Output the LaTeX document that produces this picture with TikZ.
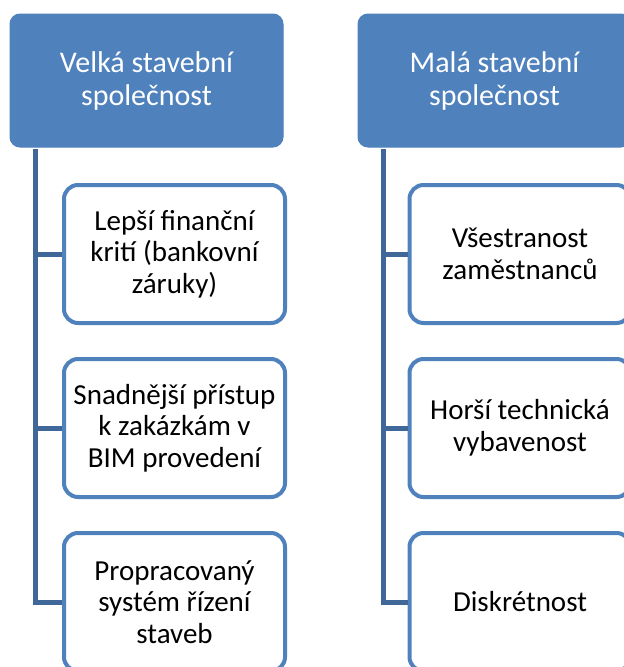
\documentclass[tikz,border=0pt]{standalone}
\usepackage{fontspec}
\setmainfont{Carlito}
\begin{document}
\begin{tikzpicture}[x=1pt,y=1pt,
  headbox/.style={draw=headblue, fill=headblue, line width=1pt, rounded corners=10pt,
    minimum width=273pt, minimum height=133pt, text=white, align=center,
    font=\fontsize{30}{33}\selectfont},
  itembox/.style={draw=itemblue, fill=white, line width=4pt, rounded corners=14pt,
    minimum width=221pt, minimum height=138pt, text=black, align=center,
    font=\fontsize{29}{31.5}\selectfont},
  link/.style={draw=linkblue, line width=5pt}]
\definecolor{headblue}{HTML}{4F81BD}
\definecolor{itemblue}{HTML}{4F81BD}
\definecolor{linkblue}{HTML}{3F6797}
\useasboundingbox (0,0) rectangle (624,-667);
\clip (0,0) rectangle (624,-667);

% column headers
\node[headbox] (big) at (146.5,-80.5) {Velká stavební\\společnost};
\node[headbox] (small) at (494.5,-80.5) {Malá stavební\\společnost};

% items of the large company
\node[itembox] (b1) at (174.5,-254) {Lepší finanční\\krití (bankovní\\záruky)};
\node[itembox] (b2) at (174.5,-428) {Snadnější přístup\\k zakázkám v\\BIM provedení};
\node[itembox] (b3) at (174.5,-602) {Propracovaný\\systém řízení\\staveb};

% items of the small company
\node[itembox] (s1) at (520,-254) {Všestranost\\zaměstnanců};
\node[itembox] (s2) at (520,-428) {Horší technická\\vybavenost};
\node[itembox] (s3) at (520,-602) {Diskrétnost};

% spine points under the headers
\coordinate (bt) at (35,-149);
\coordinate (st) at (383,-149);

% connectors
\draw[link] (bt) |- (b1.west);
\draw[link] (bt) |- (b2.west);
\draw[link] (bt) |- (b3.west);
\draw[link] (st) |- (s1.west);
\draw[link] (st) |- (s2.west);
\draw[link] (st) |- (s3.west);
\end{tikzpicture}
\end{document}
